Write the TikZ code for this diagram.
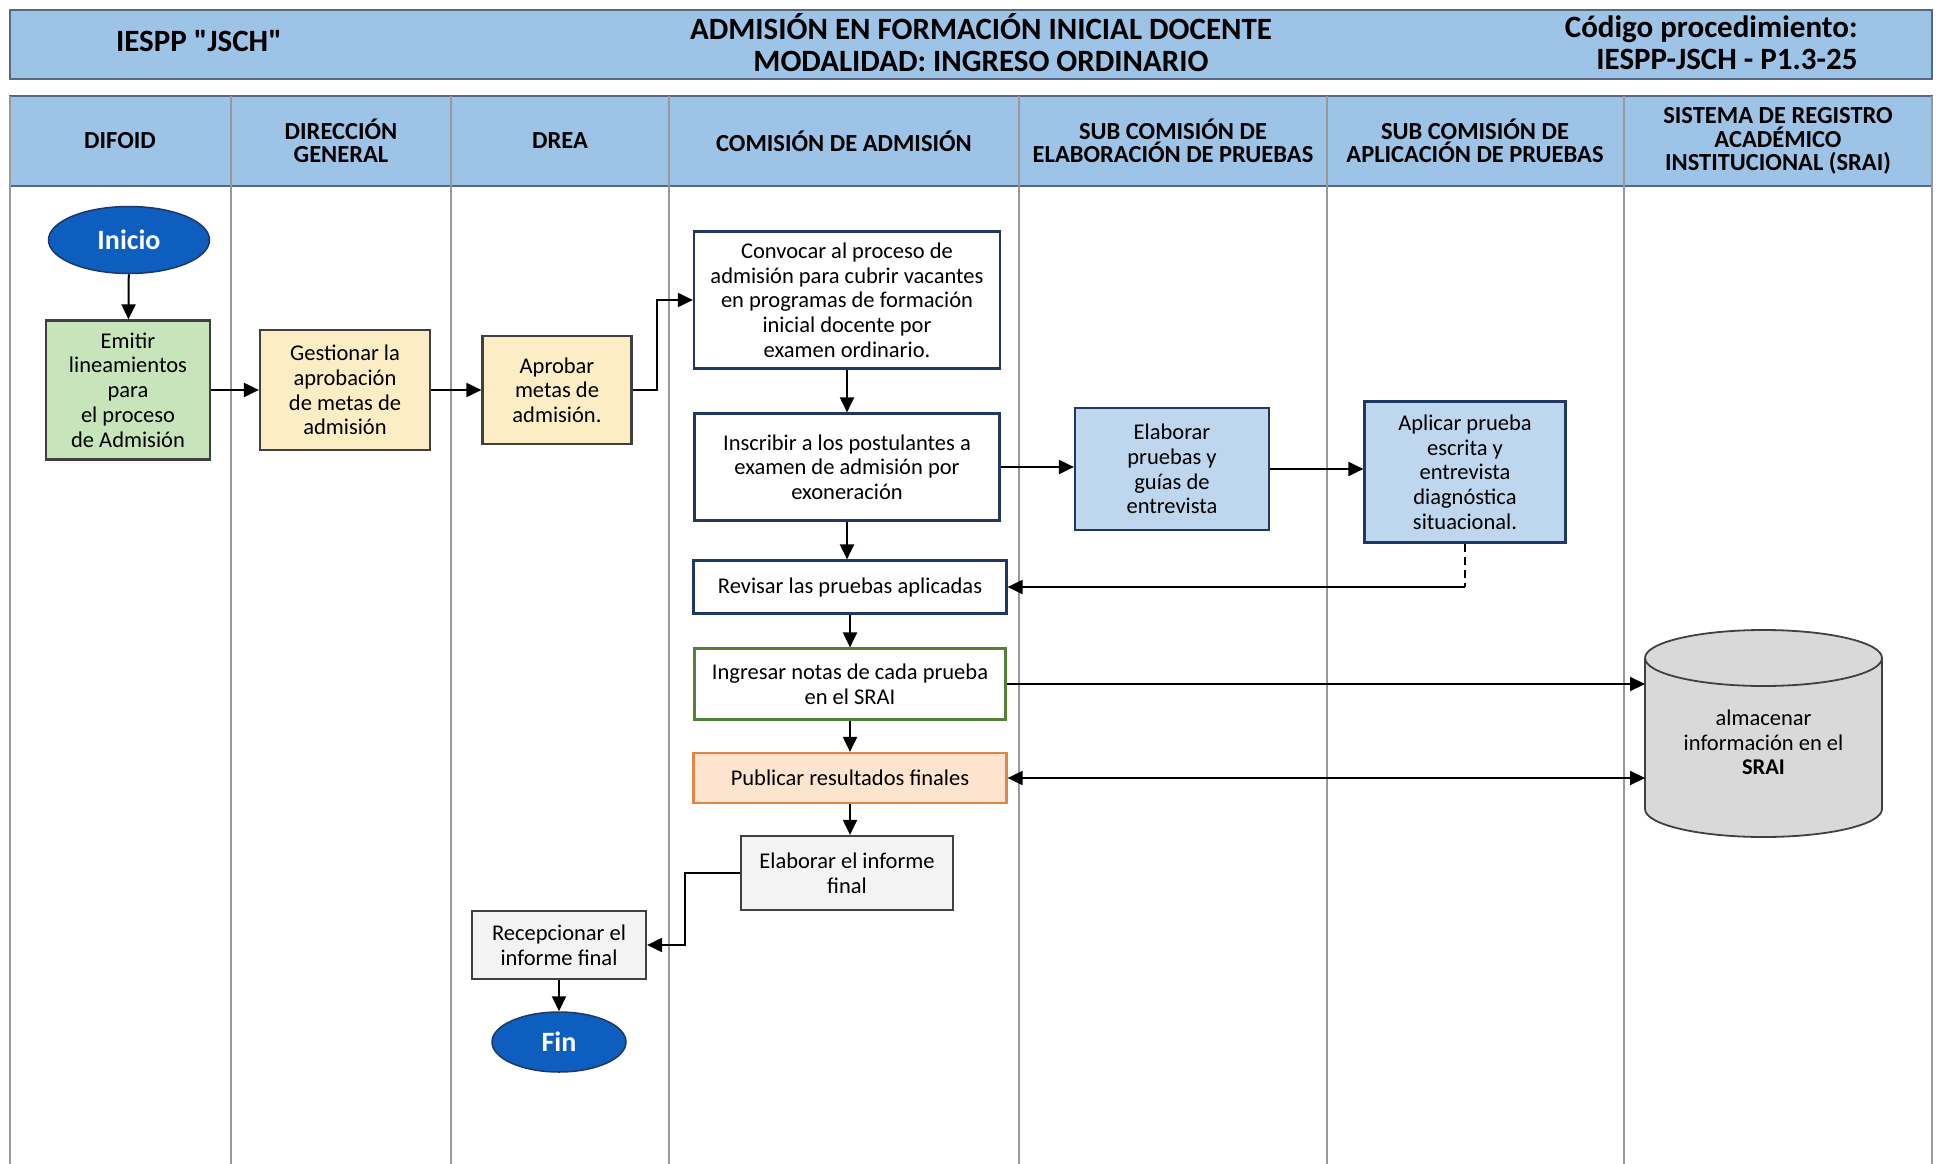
\documentclass[tikz,border=0pt]{standalone}
\usepackage{fontspec}
\setmainfont{Carlito}
\usepackage{xcolor}
\usepackage{tikz}
\usetikzlibrary{arrows.meta, positioning, calc, shapes.geometric}
\definecolor{cabecera}{RGB}{157, 195, 230}
\definecolor{bordecab}{RGB}{85, 105, 135}
\definecolor{azulini}{RGB}{14, 94, 192}
\definecolor{verdebox}{RGB}{200, 228, 186}
\definecolor{amarillo}{RGB}{253, 237, 197}
\definecolor{azulbox}{RGB}{190, 214, 238}
\definecolor{naranja}{RGB}{252, 228, 207}
\definecolor{naranjaborde}{RGB}{226, 133, 70}
\definecolor{marino}{RGB}{31, 56, 100}
\definecolor{verdeborde}{RGB}{84, 130, 53}
\definecolor{grisbox}{RGB}{243, 243, 243}
\definecolor{grisdb}{RGB}{217, 217, 217}

\begin{document}
\begin{tikzpicture}[x=1pt, y=-1pt,
    proceso/.style={draw, line width=2.2pt, align=center, inner sep=4pt,
                    font=\fontsize{22.5}{24.7}\selectfont},
    terminal/.style={ellipse, draw=marino, line width=1.5pt, fill=azulini, text=white,
                     font=\fontsize{28}{30}\selectfont\bfseries},
    flecha/.style={line width=2pt, -{Triangle[length=15pt, width=14pt]}},
    doble/.style={line width=2pt, {Triangle[length=15pt, width=14pt]}-{Triangle[length=15pt, width=14pt]}},
    carril/.style={draw=black!40, line width=1.2pt},
    cil/.style={draw=black!75, line width=1.8pt},
    cabtxt/.style={font=\fontsize{31}{32}\selectfont\bfseries, align=center},
    carriltxt/.style={font=\fontsize{24.5}{23.5}\selectfont\bfseries, align=center}]
    \useasboundingbox (0,0) rectangle (1939,1164);

    % cabecera
    \draw[fill=cabecera, draw=bordecab, line width=2pt] (10,10) rectangle (1932,79);
    \node[cabtxt] (inst) at (199,41) {IESPP \textquotedbl JSCH\textquotedbl};
    \node[cabtxt] (tit) at (981,43) {ADMISIÓN EN FORMACIÓN INICIAL DOCENTE\\MODALIDAD: INGRESO ORDINARIO};
    \node[cabtxt, align=right, anchor=east] (cod) at (1861,43) {Código procedimiento:\\IESPP-JSCH - P1.3-25};

    % carriles
    \draw[fill=cabecera, draw=bordecab, line width=2pt] (10,96) rectangle (1932,186);
    \foreach \x in {10,231,451,669,1019,1327,1624,1932} {
        \draw[carril] (\x,96) -- (\x,1164);
    }
    \node[carriltxt] (c1) at (120,141) {DIFOID};
    \node[carriltxt] (c2) at (341,141) {DIRECCIÓN\\GENERAL};
    \node[carriltxt] (c3) at (560,141) {DREA};
    \node[carriltxt] (c4) at (844,141) {COMISIÓN DE ADMISIÓN};
    \node[carriltxt] (c5) at (1173,141) {SUB COMISIÓN DE\\ELABORACIÓN DE PRUEBAS};
    \node[carriltxt] (c6) at (1475,141) {SUB COMISIÓN DE\\APLICACIÓN DE PRUEBAS};
    \node[carriltxt] (c7) at (1778,141) {SISTEMA DE REGISTRO\\ACADÉMICO\\INSTITUCIONAL (SRAI)};

    % nodos
    \node[terminal, minimum width=161pt, minimum height=67pt] (inicio) at (129,240) {Inicio};
    \node[proceso, fill=verdebox, draw=black!75, minimum width=164pt, minimum height=139pt] (emitir) at (128,390)
        {Emitir\\lineamientos\\para\\el proceso\\de Admisión};
    \node[proceso, fill=amarillo, draw=black!75, minimum width=170pt, minimum height=120pt] (gestionar) at (345,390)
        {Gestionar la\\aprobación\\de metas de\\admisión};
    \node[proceso, fill=amarillo, draw=black!75, minimum width=149pt, minimum height=108pt] (aprobar) at (557,390)
        {Aprobar\\metas de\\admisión.};
    \node[proceso, fill=white, draw=marino, minimum width=306pt, minimum height=137pt] (convocar) at (847,300)
        {Convocar al proceso de\\admisión para cubrir vacantes\\en programas de formación\\inicial docente por\\examen ordinario.};
    \node[proceso, fill=white, draw=marino, minimum width=305pt, minimum height=107pt] (inscribir) at (847,467)
        {Inscribir a los postulantes a\\examen de admisión por\\exoneración};
    \node[proceso, fill=azulbox, draw=marino, minimum width=194pt, minimum height=122pt] (elabp) at (1172,469)
        {Elaborar\\pruebas y\\guías de\\entrevista};
    \node[proceso, fill=azulbox, draw=marino, minimum width=201pt, minimum height=141pt] (aplicar) at (1465,472)
        {Aplicar prueba\\escrita y\\entrevista\\diagnóstica\\situacional.};
    \node[proceso, fill=white, draw=marino, minimum width=313pt, minimum height=53pt] (revisar) at (850,587)
        {Revisar las pruebas aplicadas};
    \node[proceso, fill=white, draw=verdeborde, minimum width=311pt, minimum height=71pt] (ingresar) at (850,684)
        {Ingresar notas de cada prueba\\en el SRAI};
    \node[proceso, fill=naranja, draw=naranjaborde, minimum width=313pt, minimum height=50pt] (publicar) at (850,778)
        {Publicar resultados finales};
    \node[proceso, fill=grisbox, draw=black!75, minimum width=212pt, minimum height=74pt] (informe) at (847,873)
        {Elaborar el informe\\final};
    \node[proceso, fill=grisbox, draw=black!75, minimum width=174pt, minimum height=68pt] (recep) at (559,945)
        {Recepcionar el\\informe final};
    \node[terminal, minimum width=134pt, minimum height=60pt] (fin) at (559,1042) {Fin};

    % base de datos SRAI
    \node[minimum width=237pt, minimum height=207pt, inner sep=0pt, outer sep=0pt] (db) at (1763.5,733.5) {};
    \draw[cil, fill=grisdb] ([yshift=-28pt]db.north west) -- ([yshift=28pt]db.south west)
        arc[start angle=180, end angle=360, x radius=118.5pt, y radius=28pt]
        -- ([yshift=-28pt]db.north east)
        arc[start angle=0, end angle=180, x radius=118.5pt, y radius=28pt] -- cycle;
    \draw[cil] ([yshift=-28pt]db.north west) arc[start angle=180, end angle=360, x radius=118.5pt, y radius=28pt];
    \node[align=center, font=\fontsize{22.5}{24.7}\selectfont] (dbtexto) at ([yshift=-9pt]db.center)
        {almacenar\\información en el\\\textbf{SRAI}};

    % flechas
    \draw[flecha] (inicio) -- (emitir);
    \draw[flecha] (emitir) -- (gestionar);
    \draw[flecha] (gestionar) -- (aprobar);
    \draw[flecha] (aprobar.east) -- ++(24,0) |- (convocar.west);
    \draw[flecha] (convocar.south) -- (convocar.south |- inscribir.north);
    \draw[flecha] (inscribir.east) -- (inscribir.east -| elabp.west);
    \draw[flecha] (elabp.east) -- (elabp.east -| aplicar.west);
    \draw[flecha] (inscribir.south) -- (inscribir.south |- revisar.north);
    \coordinate (retorno) at (aplicar.south |- revisar.east);
    \draw[line width=1.6pt, dash pattern=on 8pt off 5pt] (aplicar.south) -- (retorno);
    \draw[flecha] (retorno) -- (revisar.east);
    \draw[flecha] (revisar.south) -- (revisar.south |- ingresar.north);
    \draw[flecha] (ingresar.south) -- (ingresar.south |- publicar.north);
    \draw[flecha] (ingresar.east) -- (ingresar.east -| db.west);
    \draw[doble] (publicar.east) -- (publicar.east -| db.west);
    \draw[flecha] (publicar.south) -- (publicar.south |- informe.north);
    \draw[flecha] (informe.west) -- ++(-55,0) |- (recep.east);
    \draw[flecha] (recep) -- (fin);
\end{tikzpicture}
\end{document}
